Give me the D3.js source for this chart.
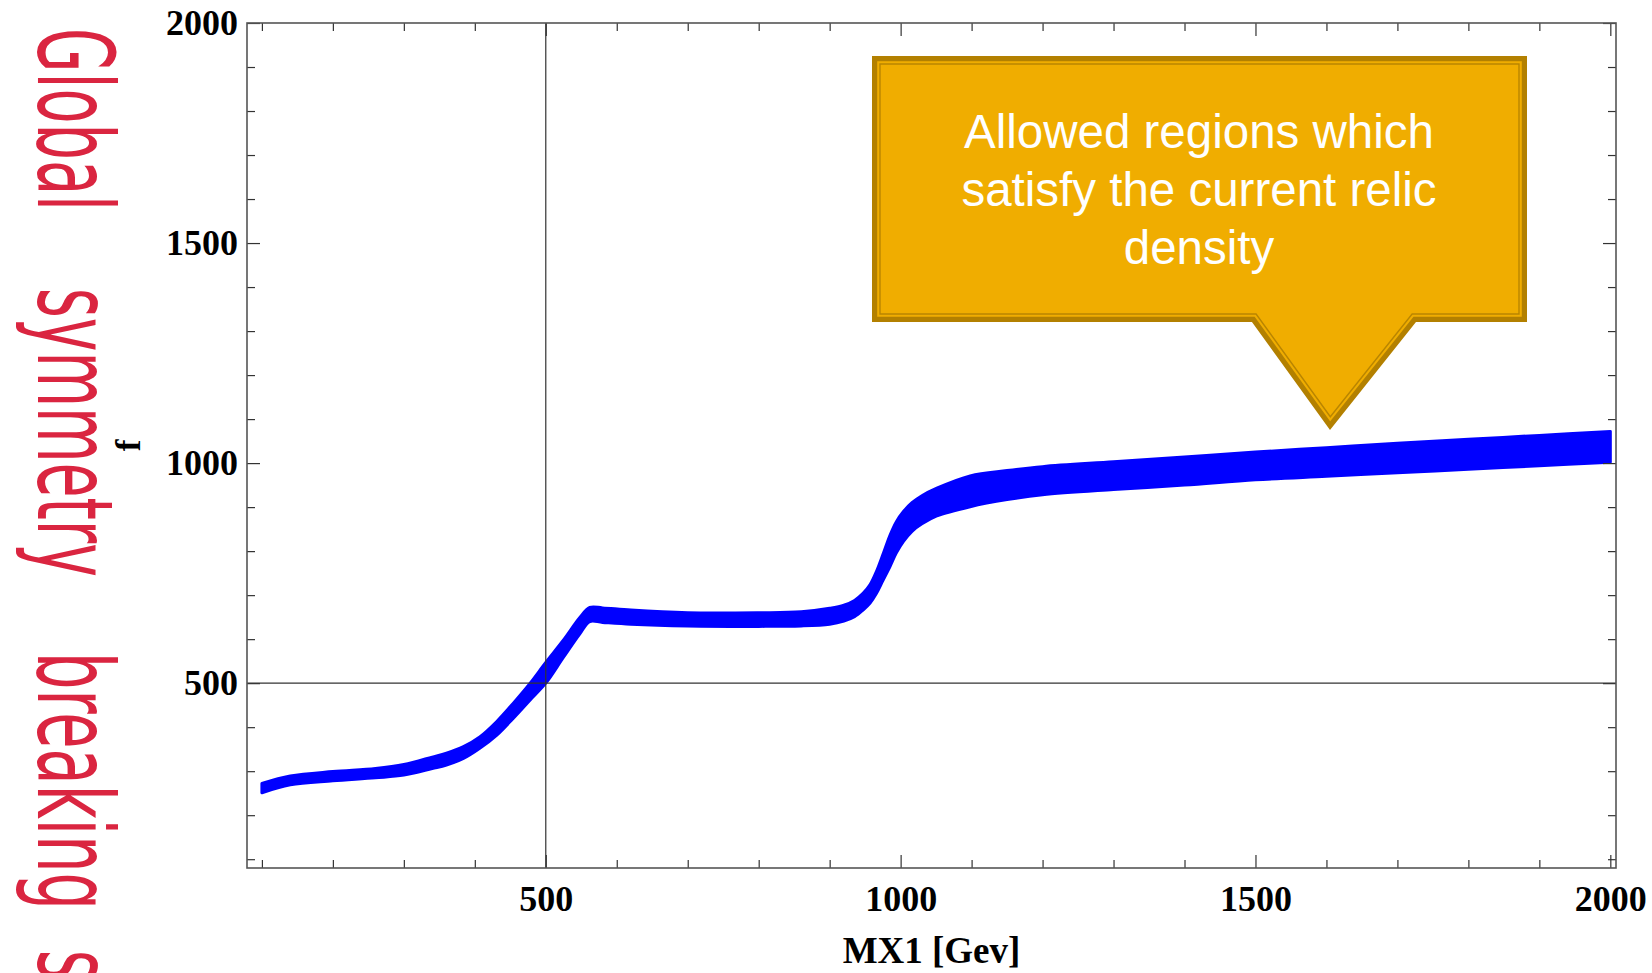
<!DOCTYPE html>
<html>
<head>
<meta charset="utf-8">
<script src="https://cdn.jsdelivr.net/npm/d3@7"></script>
<style>
  body { margin: 0; background: #fff; }
  .axis text { font-family: "Liberation Serif", "Times New Roman", serif; font-weight: bold; font-size: 36px; fill: #000; }
  .axis line { stroke: #333; stroke-width: 1.2; }
</style>
</head>
<body>
<div id="chart"></div>
<script>
// band of allowed points: lower / upper edge of f at each MX1
const mx = [100, 140, 200, 260, 300, 340, 360, 384, 407, 431, 454, 478, 500, 525, 548, 562, 580, 620, 700, 800, 860,
            900, 920, 935, 947, 957, 966, 975, 985, 994, 1004, 1016, 1030, 1051, 1098, 1150, 1200, 1300, 1400, 1500,
            1600, 1700, 1800, 1900, 2000];
const fHigh = [272, 289, 299, 306, 315, 332, 341, 356, 378, 413, 454, 500, 547, 598, 649, 672, 671, 666, 660, 660, 662,
               670, 677, 688, 704, 724, 754, 792, 836, 867, 890, 910, 926, 943, 971, 983, 992, 1003, 1014, 1025,
               1035, 1045, 1054, 1063, 1072];
const fLow = [251, 269, 278, 285, 291, 306, 314, 329, 352, 382, 420, 462, 500, 559, 612, 640, 638, 634, 630, 629, 630,
              634, 641, 651, 666, 682, 704, 733, 765, 796, 822, 845, 862, 880, 901, 917, 928, 940, 950, 962,
              970, 978, 986, 994, 1002];

const xMajor = [500, 1000, 1500, 2000];
const xMinor = [100, 200, 300, 400, 600, 700, 800, 900, 1100, 1200, 1300, 1400, 1600, 1700, 1800, 1900];
const yMajor = [500, 1000, 1500, 2000];
const yMinor = [100, 200, 300, 400, 600, 700, 800, 900, 1100, 1200, 1300, 1400, 1600, 1700, 1800, 1900];
const gridAt = { x: 500, y: 500 };

const xTitle = "MX1 [Gev]";
const yTitle = "f";
const sideWords = ["Global", "symmetry", "breaking", "s"];
const calloutLines = ["Allowed regions which", "satisfy the current relic", "density"];

const margin = { top: 23, right: 36, bottom: 105, left: 247 },
      width = 1652 - margin.left - margin.right,
      height = 973 - margin.top - margin.bottom;

const x = d3.scaleLinear().domain([79, 2008]).range([0, width]);
const y = d3.scaleLinear().domain([80, 2000]).range([height, 0]);

const svg = d3.select("#chart").append("svg")
    .attr("width", 1652)
    .attr("height", 973);

const g = svg.append("g")
    .attr("transform", "translate(" + margin.left + "," + margin.top + ")");

const data = mx.map((m, i) => ({ mx: m, lo: fLow[i], hi: fHigh[i] }));

const band = d3.area()
    .x(d => x(d.mx))
    .y0(d => y(d.lo))
    .y1(d => y(d.hi))
    .curve(d3.curveCatmullRom.alpha(0.5));

// points have a size, so the band gets a thin outline of the same blue
g.append("path")
    .datum(data)
    .attr("d", band)
    .attr("fill", "#0000ff")
    .attr("stroke", "#0000ff")
    .attr("stroke-width", 3)
    .attr("stroke-linejoin", "round");

// lines through 500 / 500
g.append("line")
    .attr("x1", x(gridAt.x)).attr("x2", x(gridAt.x))
    .attr("y1", 0).attr("y2", height)
    .attr("stroke", "#333").attr("stroke-width", 1.2);
g.append("line")
    .attr("x1", 0).attr("x2", width)
    .attr("y1", y(gridAt.y)).attr("y2", y(gridAt.y))
    .attr("stroke", "#333").attr("stroke-width", 1.2);

const noDomain = a => a.select(".domain").remove();

// bottom
g.append("g").attr("class", "axis")
    .attr("transform", "translate(0," + height + ")")
    .call(d3.axisBottom(x).tickValues(xMajor).tickSize(-13).tickPadding(17).tickFormat(d3.format("d")))
    .call(noDomain);
g.append("g").attr("class", "axis")
    .attr("transform", "translate(0," + height + ")")
    .call(d3.axisBottom(x).tickValues(xMinor).tickSize(-8).tickFormat(""))
    .call(noDomain);
// top
g.append("g").attr("class", "axis")
    .call(d3.axisTop(x).tickValues(xMajor).tickSize(-13).tickFormat(""))
    .call(noDomain);
g.append("g").attr("class", "axis")
    .call(d3.axisTop(x).tickValues(xMinor).tickSize(-8).tickFormat(""))
    .call(noDomain);
// left
g.append("g").attr("class", "axis")
    .call(d3.axisLeft(y).tickValues(yMajor).tickSize(-13).tickPadding(9).tickFormat(d3.format("d")))
    .call(noDomain);
g.append("g").attr("class", "axis")
    .call(d3.axisLeft(y).tickValues(yMinor).tickSize(-8).tickFormat(""))
    .call(noDomain);
// right
g.append("g").attr("class", "axis")
    .attr("transform", "translate(" + width + ",0)")
    .call(d3.axisRight(y).tickValues(yMajor).tickSize(-13).tickFormat(""))
    .call(noDomain);
g.append("g").attr("class", "axis")
    .attr("transform", "translate(" + width + ",0)")
    .call(d3.axisRight(y).tickValues(yMinor).tickSize(-8).tickFormat(""))
    .call(noDomain);

g.append("rect")
    .attr("width", width).attr("height", height)
    .attr("fill", "none")
    .attr("stroke", "#555").attr("stroke-width", 1.6);

// axis titles
svg.append("text")
    .attr("x", margin.left + width / 2).attr("y", 963)
    .attr("text-anchor", "middle")
    .style("font-family", "'Liberation Serif', serif").style("font-weight", "bold").style("font-size", "37px")
    .text(xTitle);

svg.append("text")
    .attr("transform", "translate(140," + (margin.top + height / 2) + ") rotate(-90)")
    .attr("text-anchor", "middle")
    .style("font-family", "'Liberation Serif', serif").style("font-weight", "bold").style("font-size", "35px")
    .text(yTitle);

// red vertical caption on the far left (runs off the bottom edge, as in the original)
const wordSpans = [[28, 183], [288, 289], [652, 258], [950, 30]];
sideWords.forEach((w, i) => {
  svg.append("text")
      .attr("transform", "translate(38," + wordSpans[i][0] + ") rotate(90)")
      .attr("textLength", wordSpans[i][1])
      .attr("lengthAdjust", "spacingAndGlyphs")
      .style("font-family", "'DejaVu Sans', sans-serif")
      .style("font-size", "105px")
      .attr("fill", "#da2540")
      .text(w);
});

// callout
function intersect(a, b) {
  const [[x1, y1], [x2, y2]] = a, [[x3, y3], [x4, y4]] = b;
  const den = (x1 - x2) * (y3 - y4) - (y1 - y2) * (x3 - x4);
  const t = ((x1 - x3) * (y3 - y4) - (y1 - y3) * (x3 - x4)) / den;
  return [x1 + t * (x2 - x1), y1 + t * (y2 - y1)];
}
function inset(pts, d) {
  const n = pts.length;
  const lines = pts.map((p, i) => {
    const q = pts[(i + 1) % n];
    const dx = q[0] - p[0], dy = q[1] - p[1], len = Math.hypot(dx, dy);
    const nx = -dy / len * d, ny = dx / len * d;
    return [[p[0] + nx, p[1] + ny], [q[0] + nx, q[1] + ny]];
  });
  return lines.map((l, i) => intersect(lines[(i - 1 + n) % n], l));
}

const bubble = [[872, 56], [1527, 56], [1527, 322], [1416, 322], [1330, 430], [1252, 322], [872, 322]];
const polyLine = d3.line().curve(d3.curveLinearClosed);

svg.append("path")
    .attr("d", polyLine(inset(bubble, 2.6)))
    .attr("fill", "#f0ad00")
    .attr("stroke", "#b38000")
    .attr("stroke-width", 5.2)
    .attr("stroke-linejoin", "miter");
svg.append("path")
    .attr("d", polyLine(inset(bubble, 8)))
    .attr("fill", "none")
    .attr("stroke", "#b98500")
    .attr("stroke-width", 1.4);

svg.append("text")
    .attr("text-anchor", "middle")
    .style("font-family", "'Liberation Sans', Arial, sans-serif")
    .style("font-size", "47.5px")
    .attr("fill", "#fff")
    .selectAll("tspan")
    .data(calloutLines)
    .join("tspan")
      .attr("x", 1199)
      .attr("y", (d, i) => 148 + i * 58)
      .text(d => d);
</script>
</body>
</html>
